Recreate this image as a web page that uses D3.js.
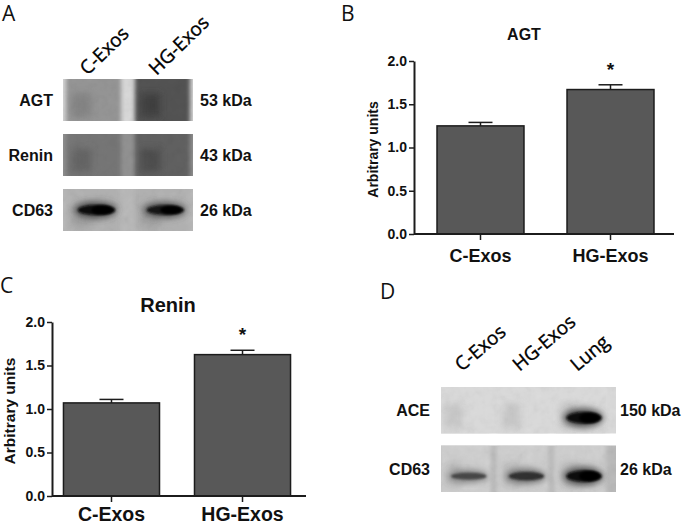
<!DOCTYPE html>
<html>
<head>
<meta charset="utf-8">
<script src="https://cdn.jsdelivr.net/npm/d3@7"></script>
<style>
  body { margin: 0; background: #fff; }
  svg text { font-family: 'Liberation Sans', Arial, sans-serif; fill: #111; }
  .panel-letter { font-family: 'Open Sans', 'Noto Sans', sans-serif; font-size: 21px; }
  .lane-label { font-family: 'Open Sans', 'Noto Sans', sans-serif; font-size: 19px; fill: #000; stroke: #000; stroke-width: 0.35px; }
</style>
</head>
<body>
<div id="fig"></div>
<script>
(() => {
'use strict';

// ---- data ----
const GROUPS = ['C-Exos', 'HG-Exos'];
const Y_TICKS = [0, 0.5, 1.0, 1.5, 2.0];
const AGT_MEAN = [1.25, 1.67];
const AGT_SEM = [0.04, 0.055];
const RENIN_MEAN = [1.07, 1.625];
const RENIN_SEM = [0.04, 0.05];
const SIGNIFICANT = [false, true];

// blot A: lanes x rows, darkness 0..1
const BLOT_A_LANES = ['C-Exos', 'HG-Exos'];
const BLOT_A_ROWS = ['AGT', 'Renin', 'CD63'];
const BLOT_A_KDA = ['53 kDa', '43 kDa', '26 kDa'];
const BLOT_A_BG = [0.08, 0.4, 0.22];
const BLOT_A_SMEAR = [[0.38, 0.68], [0.52, 0.62], [0.25, 0.25]];
const BLOT_A_BAND = [[0, 0], [0, 0], [1, 0.92]];

// blot D
const BLOT_D_LANES = ['C-Exos', 'HG-Exos', 'Lung'];
const BLOT_D_ROWS = ['ACE', 'CD63'];
const BLOT_D_KDA = ['150 kDa', '26 kDa'];
const BLOT_D_BG = [0.07, 0.22];
const BLOT_D_SMEAR = [[0.07, 0.07, 0.07], [0.12, 0.12, 0.12]];
const BLOT_D_BAND = [[0, 0, 1], [0.42, 0.62, 0.97]];

const WIDTH = 685;
const HEIGHT = 525;
const BAR_FILL = '#585858';
const INK = '#1c1c1c';

const grey = d3.scaleLinear().domain([0, 1]).range(['#f0f0f0', '#0c0c0c']);

const SVG = d3.select('#fig')
  .append('svg')
  .attr('width', WIDTH)
  .attr('height', HEIGHT);

const defs = SVG.append('defs');
[1.2, 2, 3.5].forEach((s, i) => {
  defs.append('filter')
    .attr('id', `blur${i}`)
    .attr('x', '-50%').attr('y', '-50%').attr('width', '200%').attr('height', '200%')
    .append('feGaussianBlur').attr('stdDeviation', s);
});
const grain = defs.append('filter').attr('id', 'grain')
  .attr('x', 0).attr('y', 0).attr('width', 1).attr('height', 1);
grain.append('feTurbulence')
  .attr('type', 'fractalNoise').attr('baseFrequency', 0.12)
  .attr('numOctaves', 3).attr('seed', 7).attr('result', 'n');
grain.append('feColorMatrix').attr('in', 'n').attr('type', 'matrix')
  .attr('values', '0.33 0.33 0.33 0 0 0.33 0.33 0.33 0 0 0.33 0.33 0.33 0 0 0 0 0 0 1')
  .attr('result', 'g');
grain.append('feComposite').attr('in', 'g').attr('in2', 'SourceGraphic').attr('operator', 'in');

const panelLetter = (t, x, y) => {
  SVG.append('text').attr('class', 'panel-letter').attr('x', x).attr('y', y).text(t);
};

// ---- bar panels ----
const drawBars = (o) => {
  const g = SVG.append('g');
  const x = d3.scaleBand().domain(GROUPS)
    .range([o.left, o.right]).paddingInner(o.pi).paddingOuter(o.po);
  const y = d3.scaleLinear().domain([0, 2]).range([o.bottom, o.top]);

  g.selectAll('rect.bar')
    .data(o.mean)
    .join('rect')
      .attr('class', 'bar')
      .attr('x', (d, i) => x(GROUPS[i]))
      .attr('y', (d) => y(d))
      .attr('width', x.bandwidth())
      .attr('height', (d) => y(0) - y(d))
      .attr('fill', BAR_FILL)
      .attr('stroke', INK)
      .attr('stroke-width', 1.5);

  const cx = (i) => x(GROUPS[i]) + x.bandwidth() / 2;
  const err = g.selectAll('g.err').data(o.mean).join('g').attr('class', 'err');
  err.append('line')
    .attr('x1', (d, i) => cx(i)).attr('x2', (d, i) => cx(i))
    .attr('y1', (d) => y(d)).attr('y2', (d, i) => y(d + o.sem[i]))
    .attr('stroke', INK).attr('stroke-width', 1.5);
  err.append('line')
    .attr('x1', (d, i) => cx(i) - o.cap).attr('x2', (d, i) => cx(i) + o.cap)
    .attr('y1', (d, i) => y(d + o.sem[i])).attr('y2', (d, i) => y(d + o.sem[i]))
    .attr('stroke', INK).attr('stroke-width', 1.5);

  g.selectAll('text.star')
    .data(o.mean.map((d, i) => ({ d, i })).filter((p) => SIGNIFICANT[p.i]))
    .join('text')
      .attr('class', 'star')
      .attr('x', (p) => cx(p.i))
      .attr('y', (p) => y(p.d + o.sem[p.i]) - 9)
      .attr('text-anchor', 'middle')
      .style('font-size', '19px')
      .style('font-weight', 'bold')
      .text('*');

  const yAxis = d3.axisLeft(y).tickValues(Y_TICKS)
    .tickFormat(d3.format('.1f')).tickSize(5).tickSizeOuter(0).tickPadding(2);
  const ya = g.append('g').attr('transform', `translate(${o.left},0)`).call(yAxis);
  ya.select('.domain').attr('stroke', INK).attr('stroke-width', 2);
  ya.selectAll('.tick line').attr('stroke', INK).attr('stroke-width', 1.5);
  ya.selectAll('.tick text')
    .attr('fill', '#111').style('font-size', `${o.tickSize}px`).style('font-weight', 'bold')
    .style('font-family', "'Liberation Sans', Arial, sans-serif");

  const xAxis = d3.axisBottom(x).tickSize(6).tickSizeOuter(0).tickFormat('');
  const xa = g.append('g').attr('transform', `translate(0,${o.bottom})`).call(xAxis);
  xa.select('.domain').attr('stroke', INK).attr('stroke-width', 2)
    .attr('d', `M${o.left},0H${o.axisEnd}`);
  xa.selectAll('.tick line').attr('stroke', INK).attr('stroke-width', 1.5);

  g.selectAll('text.cat')
    .data(GROUPS)
    .join('text')
      .attr('class', 'cat')
      .attr('x', (d) => x(d) + x.bandwidth() / 2)
      .attr('y', o.bottom + o.catGap)
      .attr('text-anchor', 'middle')
      .style('font-size', `${o.catSize}px`)
      .style('font-weight', 'bold')
      .text((d) => d);

  g.append('text')
    .attr('x', o.titleX).attr('y', o.titleY)
    .attr('text-anchor', 'middle')
    .style('font-size', `${o.titleSize}px`).style('font-weight', 'bold')
    .text(o.title);

  g.append('text')
    .attr('transform', `translate(${o.yTitleX},${(o.top + o.bottom) / 2 + 2}) rotate(-90)`)
    .attr('text-anchor', 'middle')
    .style('font-size', `${o.yTitleSize}px`).style('font-weight', 'bold')
    .text('Arbitrary units');
};

// ---- blot panels ----
const drawBlot = (o) => {
  const g = SVG.append('g');
  const lx = d3.scaleBand().domain(o.lanes).range(o.laneRange)
    .paddingInner(o.lanePad).paddingOuter(o.laneOuter);
  const ry = d3.scaleBand().domain(o.rows).range(o.rowRange).paddingInner(o.rowPad);

  o.rows.forEach((row, r) => {
    const y0 = ry(row);
    const h = ry.bandwidth();
    const clipId = `clip-${o.id}-${r}`;
    defs.append('clipPath').attr('id', clipId)
      .append('rect').attr('x', o.x0).attr('y', y0).attr('width', o.x1 - o.x0).attr('height', h);
    const b = g.append('g').attr('clip-path', `url(#${clipId})`);

    b.append('rect')
      .attr('x', o.x0).attr('y', y0).attr('width', o.x1 - o.x0).attr('height', h)
      .attr('fill', grey(o.bg[r]));

    // lane smears
    b.selectAll('rect.smear')
      .data(o.smear[r])
      .join('rect')
        .attr('class', 'smear')
        .attr('x', (d, i) => lx(o.lanes[i]))
        .attr('y', y0 - 4)
        .attr('width', lx.bandwidth())
        .attr('height', h + 8)
        .attr('fill', (d) => grey(d))
        .attr('filter', 'url(#blur1)');

    // darker streak on the left side of each lane
    b.selectAll('rect.streak')
      .data(o.smear[r])
      .join('rect')
        .attr('class', 'streak')
        .attr('x', (d, i) => lx(o.lanes[i]) + 6)
        .attr('y', y0 + h * 0.35)
        .attr('width', lx.bandwidth() * 0.35)
        .attr('height', h * 0.55)
        .attr('fill', (d) => grey(Math.min(1, d + 0.1)))
        .attr('opacity', 0.8)
        .attr('filter', 'url(#blur2)');

    // sharp bands
    const bandY = y0 + h * o.bandPos;
    const bands = o.band[r].map((d, i) => ({ d, i })).filter((p) => p.d > 0);
    const bx = (p) => lx(o.lanes[p.i]) + lx.bandwidth() / 2 + o.bandShift;
    b.selectAll('ellipse.halo')
      .data(bands)
      .join('ellipse')
        .attr('class', 'halo')
        .attr('cx', bx)
        .attr('cy', bandY)
        .attr('rx', lx.bandwidth() * 0.38)
        .attr('ry', (p) => (3 + 5 * p.d) * o.bandScale)
        .attr('fill', (p) => grey(0.35 + 0.4 * p.d))
        .attr('filter', 'url(#blur2)');
    b.selectAll('ellipse.band')
      .data(bands)
      .join('ellipse')
        .attr('class', 'band')
        .attr('cx', (p) => bx(p) + 1)
        .attr('cy', bandY)
        .attr('rx', lx.bandwidth() * 0.34)
        .attr('ry', (p) => (1.5 + 3.5 * p.d) * o.bandScale)
        .attr('fill', (p) => grey(0.55 + 0.45 * p.d))
        .attr('filter', 'url(#blur0)');
    // denser core toward the right end of strong bands
    b.selectAll('ellipse.core')
      .data(bands.filter((p) => p.d > 0.9))
      .join('ellipse')
        .attr('class', 'core')
        .attr('cx', (p) => bx(p) + lx.bandwidth() * 0.12)
        .attr('cy', bandY)
        .attr('rx', lx.bandwidth() * 0.2)
        .attr('ry', (p) => 4.5 * p.d * o.bandScale)
        .attr('fill', '#050505')
        .attr('filter', 'url(#blur0)');

    b.append('rect')
      .attr('x', o.x0).attr('y', y0).attr('width', o.x1 - o.x0).attr('height', h)
      .attr('fill', '#000').attr('opacity', 0.14)
      .attr('filter', 'url(#grain)')
      .style('mix-blend-mode', 'multiply');

    g.append('text')
      .attr('x', o.labelRight).attr('y', y0 + h / 2 + 6)
      .attr('text-anchor', 'end')
      .style('font-size', '16px').style('font-weight', 'bold')
      .text(row);
    g.append('text')
      .attr('x', o.kdaLeft).attr('y', y0 + h / 2 + 6)
      .style('font-size', '16px').style('font-weight', 'bold')
      .text(o.kda[r]);
  });

  g.selectAll('text.lane-label')
    .data(o.lanes)
    .join('text')
      .attr('class', 'lane-label')
      .attr('transform', (d) => `translate(${lx(d) + lx.bandwidth() / 2 + o.labelDx},${o.labelY}) rotate(${o.labelAngle})`)
      .text((d) => d);
};

// panel A
panelLetter('A', 2, 21);
drawBlot({
  id: 'a', lanes: BLOT_A_LANES, rows: BLOT_A_ROWS, kda: BLOT_A_KDA,
  bg: BLOT_A_BG, smear: BLOT_A_SMEAR, band: BLOT_A_BAND,
  x0: 63, x1: 193, laneRange: [66, 190], lanePad: 0.2, laneOuter: 0,
  rowRange: [79, 231], rowPad: 0.236, bandPos: 0.5, bandShift: 2, bandScale: 1,
  labelRight: 53, kdaLeft: 200, labelY: 76, labelDx: -6, labelAngle: -44
});

// panel B
panelLetter('B', 341, 21);
drawBars({
  mean: AGT_MEAN, sem: AGT_SEM, title: 'AGT',
  left: 414, right: 677, axisEnd: 674, top: 61, bottom: 234, pi: 0.331, po: 0.177,
  cap: 12, tickSize: 14, catSize: 18, catGap: 28, titleSize: 16, titleX: 524, titleY: 40,
  yTitleX: 378, yTitleSize: 14
});

// panel C
panelLetter('C', 0, 293);
drawBars({
  mean: RENIN_MEAN, sem: RENIN_SEM, title: 'Renin',
  left: 52, right: 302, axisEnd: 306, top: 322, bottom: 496, pi: 0.267, po: 0.0875,
  cap: 12, tickSize: 14, catSize: 19.5, catGap: 25, titleSize: 20, titleX: 168, titleY: 312,
  yTitleX: 15, yTitleSize: 15.5
});

// panel D
panelLetter('D', 380, 299);
drawBlot({
  id: 'd', lanes: BLOT_D_LANES, rows: BLOT_D_ROWS, kda: BLOT_D_KDA,
  bg: BLOT_D_BG, smear: BLOT_D_SMEAR, band: BLOT_D_BAND,
  x0: 441, x1: 616, laneRange: [436, 609], lanePad: 0.1, laneOuter: 0.05,
  rowRange: [387, 492], rowPad: 0.2, bandPos: 0.66, bandShift: 3, bandScale: 1.15,
  labelRight: 430, kdaLeft: 620, labelY: 372, labelDx: -3, labelAngle: -40
});

})();
</script>
</body>
</html>
